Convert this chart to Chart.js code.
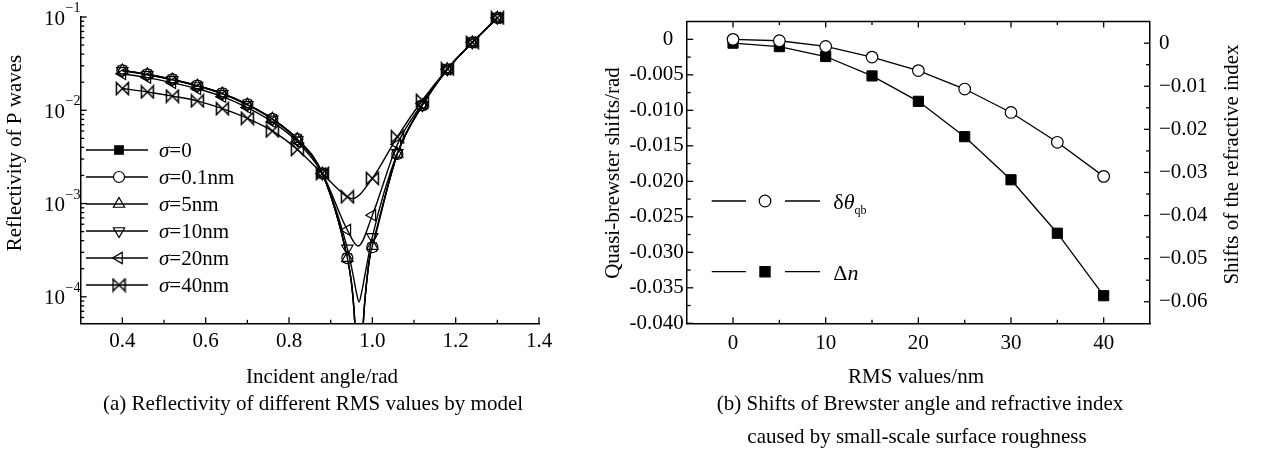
<!DOCTYPE html>
<html>
<head>
<meta charset="utf-8">
<script src="https://cdn.jsdelivr.net/npm/chart.js@4.4.0/dist/chart.umd.min.js"></script>
<style>
  html, body { margin: 0; padding: 0; background: #fff; }
  #wrap { position: relative; width: 1266px; height: 452px; }
  #wrap canvas { position: absolute; top: 0; }
  #reflect { left: 0; }
  #shifts { left: 570px; }
</style>
</head>
<body>
<div id="wrap">
  <canvas id="reflect" width="570" height="452"></canvas>
  <canvas id="shifts" width="696" height="452"></canvas>
</div>
<script>
const SERIF = '"Liberation Serif", "Times New Roman", serif';

// ---- (a) reflectivity of P waves vs incident angle ----
const angles = [0.40, 0.46, 0.52, 0.58, 0.64, 0.70, 0.76, 0.82, 0.88, 0.94, 1.00, 1.06, 1.12, 1.18, 1.24, 1.30];
const reflSigma0   = [0.0268, 0.0243, 0.0214, 0.0184, 0.0152, 0.0116, 0.0081, 0.0049, 0.0021, 0.00026, 0.00034, 0.0034, 0.0113, 0.0275, 0.0535, 0.098];
const reflSigma01  = [0.0268, 0.0243, 0.0214, 0.0184, 0.0152, 0.0116, 0.0081, 0.0049, 0.0021, 0.00026, 0.00034, 0.0034, 0.0113, 0.0275, 0.0535, 0.098];
const reflSigma5   = [0.0267, 0.0242, 0.0213, 0.0183, 0.0151, 0.0115, 0.0081, 0.0049, 0.0021, 0.00026, 0.00035, 0.0034, 0.0113, 0.0275, 0.0535, 0.098];
const reflSigma10  = [0.0265, 0.0240, 0.0212, 0.0182, 0.0150, 0.0114, 0.0080, 0.0048, 0.0021, 0.00033, 0.00044, 0.0035, 0.0114, 0.0275, 0.0535, 0.098];
const reflSigma20  = [0.0246, 0.0224, 0.0197, 0.0170, 0.0140, 0.0107, 0.0075, 0.0046, 0.0021, 0.00052, 0.00075, 0.0043, 0.0118, 0.0275, 0.0535, 0.098];
const reflSigma40  = [0.0171, 0.0157, 0.0142, 0.0126, 0.0104, 0.0082, 0.0060, 0.0038, 0.0021, 0.00118, 0.00186, 0.0052, 0.0128, 0.0278, 0.0535, 0.098];
// curve samples around the Brewster dip (no marker): [angle, reflectivity]
const dipSigma0  = [[0.950, 1.4e-4], [0.956, 7.2e-5], [0.962, 2.2e-5], [0.968, 4e-6], [0.974, 2.2e-5], [0.980, 7e-5], [0.986, 1.4e-4], [0.994, 2.7e-4]];
const dipSigma10 = [[0.954, 1.7e-4], [0.962, 1.1e-4], [0.968, 8.8e-5], [0.974, 1.1e-4], [0.983, 1.8e-4]];
const dipSigma20 = [[0.966, 3.5e-4]];
const dipSigma40 = [[0.952, 1.13e-3]];
const sigmaLabels = ['0', '0.1nm', '5nm', '10nm', '20nm', '40nm'];

const angleTicks = [0.4, 0.6, 0.8, 1.0, 1.2, 1.4];
const angleMinor = [0.5, 0.7, 0.9, 1.1, 1.3];
const decadeTicks = [1e-4, 1e-3, 1e-2, 1e-1];

// ---- (b) Brewster angle / refractive index shifts vs RMS ----
const rmsValues = [0, 5, 10, 15, 20, 25, 30, 35, 40];
const brewsterShift = [0, -0.0002, -0.001, -0.0025, -0.0044, -0.0070, -0.0103, -0.0145, -0.0193];
const indexShift = [0, -0.0008, -0.0031, -0.0076, -0.0135, -0.0217, -0.0317, -0.0441, -0.0586];

const rmsTicks = [0, 10, 20, 30, 40];
const rmsMinor = [5, 15, 25, 35];
const brewsterTicks = [0, -0.005, -0.010, -0.015, -0.020, -0.025, -0.030, -0.035, -0.040];
const brewsterMinor = [-0.0025, -0.0075, -0.0125, -0.0175, -0.0225, -0.0275, -0.0325, -0.0375];
const indexTicks = [0, -0.01, -0.02, -0.03, -0.04, -0.05, -0.06];
const indexMinor = [-0.005, -0.015, -0.025, -0.035, -0.045, -0.055];

// bow-tie marker used for sigma = 40nm
const bowtie = document.createElement('canvas');
bowtie.width = 15; bowtie.height = 15;
(function () {
  const c = bowtie.getContext('2d');
  c.strokeStyle = '#000';
  c.lineWidth = 1.5;
  c.beginPath();
  c.moveTo(1.5, 1.5); c.lineTo(13.5, 13.5); c.lineTo(13.5, 1.5); c.lineTo(1.5, 13.5); c.closePath();
  c.stroke();
})();

// the filled square sits underneath the white circle of sigma = 0.1nm
const markers = [
  { style: 'rect', radius: 6, fill: '#000', rotation: 0 },
  { style: 'circle', radius: 5.5, fill: '#fff', rotation: 0 },
  { style: 'triangle', radius: 6.5, fill: 'rgba(0,0,0,0)', rotation: 0 },
  { style: 'triangle', radius: 6.5, fill: 'rgba(0,0,0,0)', rotation: 180 },
  { style: 'triangle', radius: 6.5, fill: 'rgba(0,0,0,0)', rotation: -90 },
  { style: bowtie, radius: 7, fill: 'rgba(0,0,0,0)', rotation: 0 }
];

function curve(values, dip) {
  const pts = angles.map((a, i) => ({ x: a, y: values[i], mark: true }));
  dip.forEach(([x, y]) => pts.push({ x, y, mark: false }));
  return pts.sort((p, q) => p.x - q.x);
}

const reflSeries = [
  curve(reflSigma0, dipSigma0),
  curve(reflSigma01, dipSigma0),
  curve(reflSigma5, dipSigma0),
  curve(reflSigma10, dipSigma10),
  curve(reflSigma20, dipSigma20),
  curve(reflSigma40, dipSigma40)
];

// ---- drawing helpers ----
function drawMarker(ctx, m, x, y) {
  ctx.save();
  ctx.translate(x, y);
  if (m.style instanceof HTMLCanvasElement) {
    ctx.drawImage(m.style, -m.style.width / 2, -m.style.height / 2);
    ctx.restore();
    return;
  }
  ctx.rotate(m.rotation * Math.PI / 180);
  ctx.beginPath();
  if (m.style === 'circle') {
    ctx.arc(0, 0, m.radius, 0, Math.PI * 2);
  } else if (m.style === 'rect') {
    const s = m.radius * Math.SQRT1_2;
    ctx.rect(-s, -s, 2 * s, 2 * s);
  } else {
    for (let k = 0; k < 3; k++) {
      const a = k * 2 * Math.PI / 3;
      const px = Math.sin(a) * m.radius, py = -Math.cos(a) * m.radius;
      k ? ctx.lineTo(px, py) : ctx.moveTo(px, py);
    }
    ctx.closePath();
  }
  ctx.fillStyle = m.fill;
  ctx.fill();
  ctx.lineWidth = 1.2;
  ctx.strokeStyle = '#000';
  ctx.stroke();
  ctx.restore();
}

// draws a row of text runs; each run may be italic, resized or shifted
function drawRuns(ctx, runs, x, y, align, rotate) {
  const fontOf = r => (r.italic ? 'italic ' : '') + (r.size || 21) + 'px ' + SERIF;
  let total = 0;
  runs.forEach(r => { ctx.font = fontOf(r); total += ctx.measureText(r.t).width; });
  ctx.save();
  ctx.translate(x, y);
  if (rotate) ctx.rotate(rotate);
  let cx = align === 'center' ? -total / 2 : align === 'right' ? -total : 0;
  ctx.textBaseline = 'alphabetic';
  ctx.textAlign = 'left';
  ctx.fillStyle = '#000';
  runs.forEach(r => {
    ctx.font = fontOf(r);
    ctx.fillText(r.t, cx, r.dy || 0);
    cx += ctx.measureText(r.t).width;
  });
  ctx.restore();
}

function xTick(ctx, px, y0, len) { ctx.beginPath(); ctx.moveTo(px, y0); ctx.lineTo(px, y0 + len); ctx.stroke(); }
function yTick(ctx, py, x0, len) { ctx.beginPath(); ctx.moveTo(x0, py); ctx.lineTo(x0 + len, py); ctx.stroke(); }

const plain = { display: false, drawTicks: false };
const axisLine = { display: true, color: '#000', width: 1.5 };

// ---- chart (a) ----
const reflectDecor = {
  id: 'reflectDecor',
  afterDraw(chart) {
    const { ctx, chartArea: a } = chart;
    const xs = chart.scales.x, ys = chart.scales.y;
    ctx.save();
    ctx.strokeStyle = '#000';
    ctx.lineWidth = 1.3;
    angleTicks.forEach(v => xTick(ctx, xs.getPixelForValue(v), a.bottom, -6));
    angleMinor.forEach(v => xTick(ctx, xs.getPixelForValue(v), a.bottom, -3.5));
    for (let e = -5; e <= -1; e++) {
      for (let m = 1; m <= 9; m++) {
        const v = m * Math.pow(10, e);
        if (v < ys.min * 0.999 || v > ys.max * 1.001) continue;
        yTick(ctx, ys.getPixelForValue(v), a.left, m === 1 ? 6 : 3.5);
      }
    }
    // decade labels 10^n
    decadeTicks.forEach(v => {
      const py = ys.getPixelForValue(v);
      const e = Math.round(Math.log10(v));
      drawRuns(ctx, [{ t: '10' }], 65, py + 7.5, 'right');
      drawRuns(ctx, [{ t: '\u2212' + Math.abs(e), size: 14 }], 65.5, py - 5, 'left');
    });
    // legend
    sigmaLabels.forEach((lab, i) => {
      const ry = 150 + i * 27;
      ctx.lineWidth = 1.6;
      ctx.beginPath(); ctx.moveTo(86, ry); ctx.lineTo(148, ry); ctx.stroke();
      drawMarker(ctx, markers[i], 119, ry);
      drawRuns(ctx, [{ t: '\u03C3', italic: true }, { t: '=' + lab }], 159, ry + 7, 'left');
    });
    // titles and caption
    drawRuns(ctx, [{ t: 'Reflectivity of P waves' }], 21, 153, 'center', -Math.PI / 2);
    drawRuns(ctx, [{ t: 'Incident angle/rad' }], 322, 383, 'center');
    drawRuns(ctx, [{ t: '(a) Reflectivity of different RMS values by model' }], 313, 410, 'center');
    ctx.restore();
  }
};

new Chart(document.getElementById('reflect'), {
  type: 'line',
  data: {
    datasets: reflSeries.map((pts, i) => ({
      label: '\u03C3=' + sigmaLabels[i],
      data: pts,
      order: 6 - i,
      borderColor: '#000',
      borderWidth: 1.4,
      cubicInterpolationMode: 'monotone',
      pointStyle: markers[i].style,
      pointRotation: markers[i].rotation,
      pointRadius: c => (c.raw && c.raw.mark ? markers[i].radius : 0),
      pointBackgroundColor: markers[i].fill,
      pointBorderColor: '#000',
      pointBorderWidth: 1.2,
      clip: { left: 10, top: 10, right: 10, bottom: 0 }
    }))
  },
  options: {
    responsive: false,
    animation: false,
    events: [],
    layout: { padding: { top: 17, right: 31, bottom: 0, left: 0 } },
    plugins: { legend: { display: false }, tooltip: { enabled: false } },
    scales: {
      x: {
        type: 'linear', min: 0.3, max: 1.4,
        grid: plain, border: axisLine,
        ticks: { color: '#000', font: { family: SERIF, size: 21 }, padding: 6, maxRotation: 0, callback: v => v.toFixed(1) },
        afterBuildTicks: s => { s.ticks = angleTicks.map(v => ({ value: v })); },
        afterFit: s => { s.height = 452 - 323.3; }
      },
      y: {
        type: 'logarithmic', min: 5.2e-5, max: 0.1,
        grid: plain, border: axisLine,
        ticks: { display: false },
        afterBuildTicks: s => { s.ticks = decadeTicks.map(v => ({ value: v })); },
        afterFit: s => { s.width = 80.7; }
      }
    }
  },
  plugins: [reflectDecor]
});

// ---- chart (b) ----
const shiftMarkers = [
  { style: 'circle', radius: 5.8, fill: '#fff', rotation: 0 },
  { style: 'rect', radius: 7.2, fill: '#000', rotation: 0 }
];

const shiftDecor = {
  id: 'shiftDecor',
  afterDraw(chart) {
    const { ctx, chartArea: a } = chart;
    const xs = chart.scales.x, yl = chart.scales.y, yr = chart.scales.y1;
    ctx.save();
    ctx.strokeStyle = '#000';
    ctx.lineWidth = 1.5;
    ctx.beginPath(); ctx.moveTo(a.left, a.top); ctx.lineTo(a.right, a.top); ctx.stroke();
    ctx.lineWidth = 1.3;
    rmsTicks.forEach(v => {
      const px = xs.getPixelForValue(v);
      xTick(ctx, px, a.bottom, -6); xTick(ctx, px, a.top, 6);
    });
    rmsMinor.forEach(v => {
      const px = xs.getPixelForValue(v);
      xTick(ctx, px, a.bottom, -3.5); xTick(ctx, px, a.top, 3.5);
    });
    brewsterTicks.forEach(v => yTick(ctx, yl.getPixelForValue(v), a.left, 6.5));
    brewsterMinor.forEach(v => yTick(ctx, yl.getPixelForValue(v), a.left, 4));
    indexTicks.forEach(v => yTick(ctx, yr.getPixelForValue(v), a.right, -6));
    indexMinor.forEach(v => yTick(ctx, yr.getPixelForValue(v), a.right, -4));
    // legend rows: line - marker - line, then symbol
    const rows = [
      [{ t: '\u03B4', size: 22 }, { t: '\u03B8', italic: true, size: 22 }, { t: 'qb', size: 12, dy: 5 }],
      [{ t: '\u0394', size: 22 }, { t: 'n', italic: true, size: 22 }]
    ];
    [201, 271.7].forEach((ry, i) => {
      ctx.lineWidth = 1.3;
      ctx.beginPath(); ctx.moveTo(141.7, ry); ctx.lineTo(176, ry); ctx.stroke();
      ctx.beginPath(); ctx.moveTo(215, ry); ctx.lineTo(250, ry); ctx.stroke();
      drawMarker(ctx, shiftMarkers[i], 195, ry);
      drawRuns(ctx, rows[i], 263.3, ry + 8, 'left');
    });
    drawRuns(ctx, [{ t: 'Quasi-brewster shifts/rad' }], 49, 173, 'center', -Math.PI / 2);
    drawRuns(ctx, [{ t: 'Shifts of the refractive index' }], 668, 164.5, 'center', -Math.PI / 2);
    drawRuns(ctx, [{ t: 'RMS values/nm' }], 346, 383, 'center');
    drawRuns(ctx, [{ t: '(b) Shifts of Brewster angle and refractive index' }], 350, 410, 'center');
    drawRuns(ctx, [{ t: 'caused by small-scale surface roughness' }], 347, 443, 'center');
    ctx.restore();
  }
};

new Chart(document.getElementById('shifts'), {
  type: 'line',
  data: {
    datasets: [
      {
        label: '\u03B4\u03B8qb',
        data: rmsValues.map((x, i) => ({ x, y: brewsterShift[i] })),
        yAxisID: 'y',
        borderColor: '#000', borderWidth: 1.3, tension: 0,
        pointStyle: 'circle', pointRadius: shiftMarkers[0].radius,
        pointBackgroundColor: '#fff', pointBorderColor: '#000', pointBorderWidth: 1.2,
        clip: false
      },
      {
        label: '\u0394n',
        data: rmsValues.map((x, i) => ({ x, y: indexShift[i] })),
        yAxisID: 'y1',
        borderColor: '#000', borderWidth: 1.3, tension: 0,
        pointStyle: 'rect', pointRadius: shiftMarkers[1].radius,
        pointBackgroundColor: '#000', pointBorderColor: '#000', pointBorderWidth: 1,
        clip: false
      }
    ]
  },
  options: {
    responsive: false,
    animation: false,
    events: [],
    layout: { padding: { top: 10.7, right: 0, bottom: 0, left: 0 } },
    plugins: { legend: { display: false }, tooltip: { enabled: false } },
    scales: {
      x: {
        type: 'linear', min: -5, max: 45,
        grid: plain, border: axisLine,
        ticks: { color: '#000', font: { family: SERIF, size: 21 }, padding: 8, maxRotation: 0 },
        afterBuildTicks: s => { s.ticks = rmsTicks.map(v => ({ value: v })); },
        afterFit: s => { s.height = 452 - 323.3; }
      },
      y: {
        type: 'linear', position: 'left', min: -0.040, max: 0.0025,
        grid: plain, border: axisLine,
        ticks: {
          color: '#000', font: { family: SERIF, size: 21 }, padding: 3,
          callback: v => (v === 0 ? '0  ' : '-' + Math.abs(v).toFixed(3))
        },
        afterBuildTicks: s => { s.ticks = brewsterTicks.map(v => ({ value: v })); },
        afterFit: s => { s.width = 116.7; }
      },
      y1: {
        type: 'linear', position: 'right', min: -0.065, max: 0.005,
        grid: plain, border: axisLine,
        ticks: {
          color: '#000', font: { family: SERIF, size: 21 }, padding: 9,
          callback: v => (v === 0 ? '0' : '\u2212' + Math.abs(v).toFixed(2))
        },
        afterBuildTicks: s => { s.ticks = indexTicks.map(v => ({ value: v })); },
        afterFit: s => { s.width = 116; }
      }
    }
  },
  plugins: [shiftDecor]
});
</script>
</body>
</html>
